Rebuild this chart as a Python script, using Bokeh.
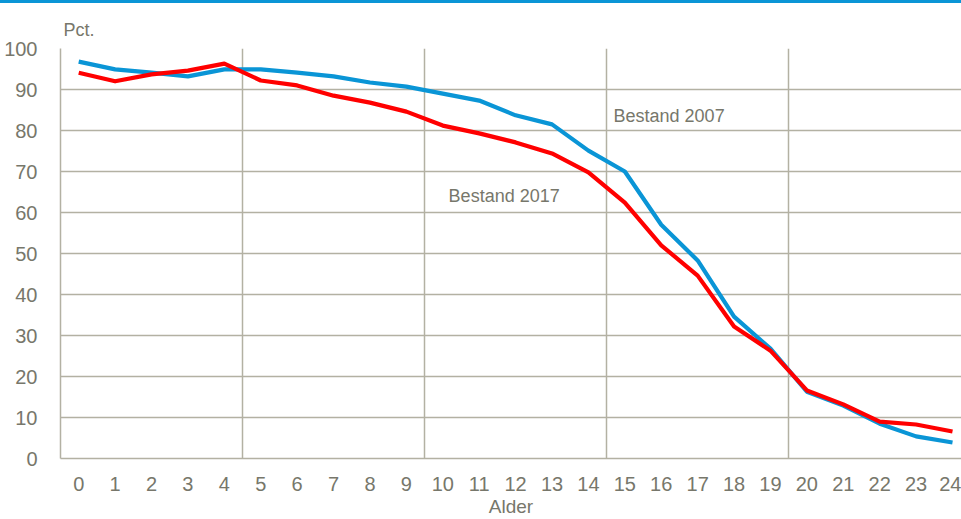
from bokeh.plotting import figure
from bokeh.models import FixedTicker, Label, Range1d
from bokeh.embed import file_html
from bokeh.resources import INLINE

ages = list(range(25))
bestand_2007 = [96.8, 94.9, 94.1, 93.2, 94.9, 94.9, 94.1, 93.2, 91.7, 90.7,
                89.0, 87.3, 83.7, 81.5, 75.1, 70.0, 57.0, 48.3, 34.6, 26.8,
                16.3, 12.9, 8.5, 5.4, 3.9]
bestand_2017 = [94.1, 92.0, 93.7, 94.6, 96.3, 92.2, 91.0, 88.5, 86.8, 84.6,
                81.2, 79.3, 77.1, 74.4, 69.8, 62.4, 52.0, 44.6, 32.2, 26.3,
                16.6, 13.2, 9.0, 8.3, 6.6]
y_ticks = [0, 10, 20, 30, 40, 50, 60, 70, 80, 90, 100]
group_breaks = [4.5, 9.5, 14.5, 19.5]

FONT = "'Liberation Sans', Arial, sans-serif"
TXT = "#77776b"
GRID = "#b3b1a3"

p = figure(width=961, height=516, output_backend="svg", toolbar_location=None,
           x_range=Range1d(-0.5, 24.247), y_range=Range1d(0, 100),
           min_border_left=60, min_border_right=0, min_border_top=45,
           min_border_bottom=61, title="Pct.")
p.outline_line_color = None
p.styles = {"border-top": "3px solid #0a95d6"}

p.title.align = "left"
p.title.offset = 3
p.title.standoff = 17
p.title.text_font = FONT
p.title.text_font_size = "18px"
p.title.text_font_style = "normal"
p.title.text_color = TXT

p.line(ages, bestand_2007, line_color="#0a95d6", line_width=4.2, line_join="round")
p.line(ages, bestand_2017, line_color="#ff0000", line_width=4.2, line_join="round")

p.xaxis.ticker = FixedTicker(ticks=ages)
p.yaxis.ticker = FixedTicker(ticks=y_ticks)
p.xgrid.ticker = FixedTicker(ticks=group_breaks)
p.ygrid.ticker = FixedTicker(ticks=y_ticks)
for g in (p.xgrid, p.ygrid):
    g.grid_line_color = GRID
    g.grid_line_width = 1.5

for ax in (p.xaxis, p.yaxis):
    ax.axis_line_color = GRID
    ax.axis_line_width = 1.5
    ax.major_tick_line_color = None
    ax.minor_tick_line_color = None
    ax.major_label_text_font = FONT
    ax.major_label_text_font_size = "20px"
    ax.major_label_text_color = TXT
p.yaxis.major_label_standoff = 17
p.xaxis.major_label_standoff = 12
p.xaxis.axis_label = "Alder"
p.xaxis.axis_label_text_font = FONT
p.xaxis.axis_label_text_font_size = "19px"
p.xaxis.axis_label_text_font_style = "normal"
p.xaxis.axis_label_text_color = TXT
p.xaxis.axis_label_standoff = 2

label_2007 = ("Bestand 2007", 14.69, 83.5)
label_2017 = ("Bestand 2017", 10.16, 64.0)
for txt, lx, ly in (label_2007, label_2017):
    p.add_layout(Label(x=lx, y=ly, text=txt, text_font=FONT, text_font_size="18px",
                       text_color=TXT, text_baseline="middle"))

open("out.html", "w").write(file_html(p, INLINE))
